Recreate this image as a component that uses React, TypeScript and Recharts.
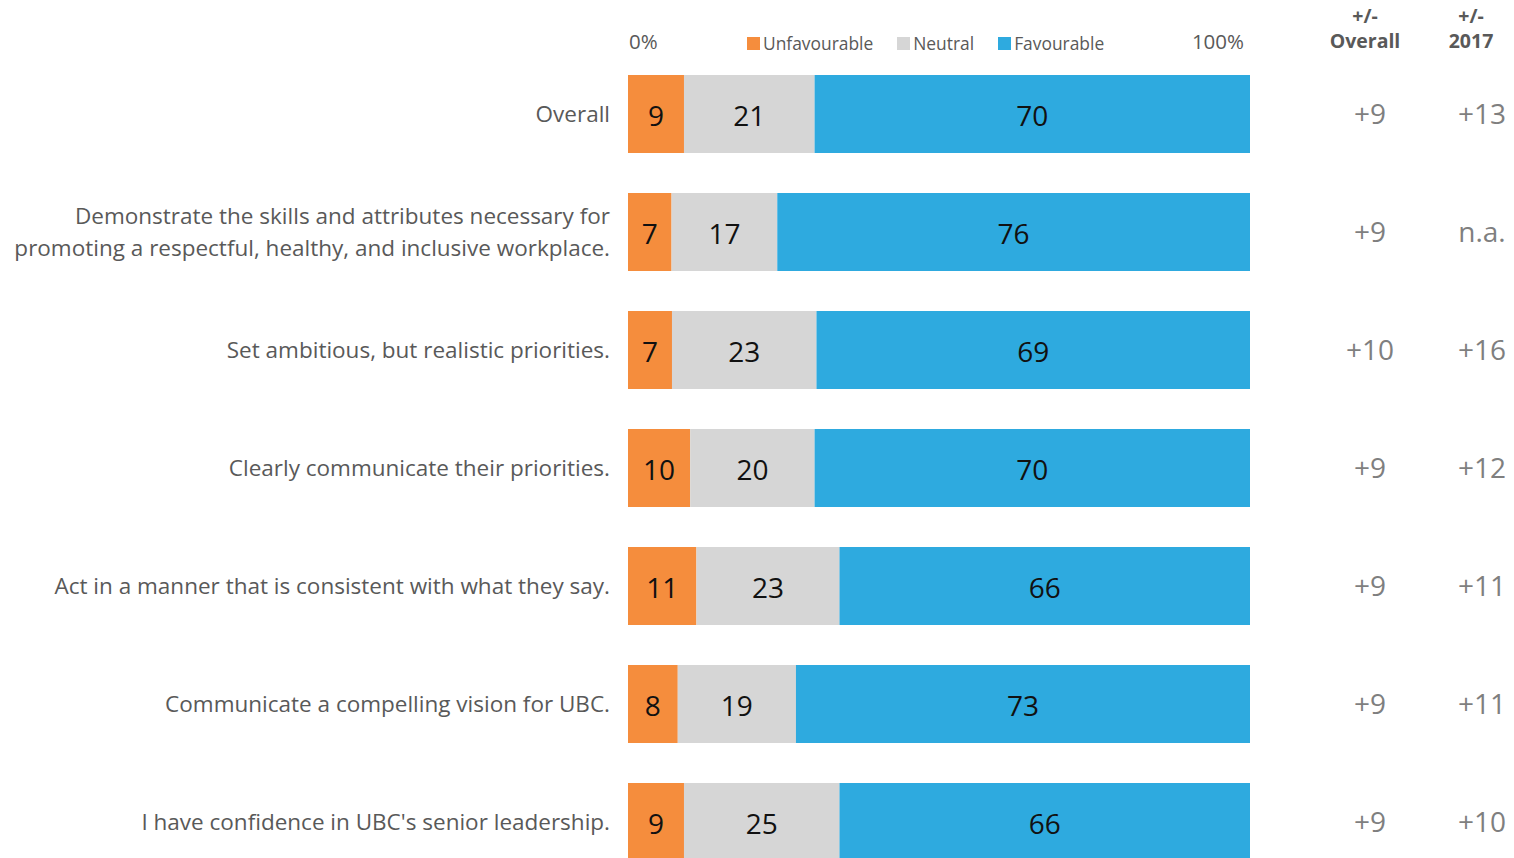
import { BarChart, Bar, XAxis, YAxis, Legend, LabelList } from 'recharts';

const categories = [
  'Overall',
  'Demonstrate the skills and attributes necessary for|promoting a respectful, healthy, and inclusive workplace.',
  'Set ambitious, but realistic priorities.',
  'Clearly communicate their priorities.',
  'Act in a manner that is consistent with what they say.',
  'Communicate a compelling vision for UBC.',
  "I have confidence in UBC's senior leadership.",
];
const unfavourable = [9, 7, 7, 10, 11, 8, 9];
const neutral = [21, 17, 23, 20, 23, 19, 25];
const favourable = [70, 76, 69, 70, 66, 73, 66];
const diffOverall = ['+9', '+9', '+10', '+9', '+9', '+9', '+9'];
const diff2017 = ['+13', 'n.a.', '+16', '+12', '+11', '+11', '+10'];
const axisTicks = [0, 1];

const FONT = '"Open Sans", "Noto Sans", sans-serif';
const COLORS = { unfav: '#F58D3D', neutral: '#D6D6D6', fav: '#2EAADF' };

const data = categories.map((label, i) => ({
  label,
  unfav: unfavourable[i],
  neutral: neutral[i],
  fav: favourable[i],
}));

const seriesValues: Record<string, number[]> = {
  unfav: unfavourable,
  neutral: neutral,
  fav: favourable,
};

function barLabel(key: string) {
  return (props: any) => {
    const { x, y, width, height, index } = props;
    const v = index != null ? seriesValues[key][index] : props.value;
    return (
      <text
        x={Number(x) + Number(width) / 2}
        y={Number(y) + Number(height) / 2 + 1}
        textAnchor="middle"
        dominantBaseline="central"
        fontFamily={FONT}
        fontSize={28}
        fill="#111"
      >
        {v}
      </text>
    );
  };
}

function LeftTick(props: any) {
  const { x, y, payload } = props;
  const lines = String(payload.value).split('|');
  const lh = 32;
  const start = -((lines.length - 1) * lh) / 2;
  return (
    <text x={x - 10} y={y - 1} textAnchor="end" fontFamily={FONT} fontSize={22.5} fill="#595959">
      {lines.map((l, i) => (
        <tspan key={i} x={x - 10} dy={i === 0 ? start : lh} dominantBaseline="central">
          {l}
        </tspan>
      ))}
    </text>
  );
}

function RightTick(props: any) {
  const { x, y, index } = props;
  return (
    <g fontFamily={FONT} fontSize={28} fill="#7F7F7F">
      <text x={x + 112} y={y - 1} textAnchor="middle" dominantBaseline="central">
        {diffOverall[index]}
      </text>
      <text x={x + 224} y={y - 1} textAnchor="middle" dominantBaseline="central">
        {diff2017[index]}
      </text>
    </g>
  );
}

function TopTick(props: any) {
  const { x, y, payload } = props;
  return (
    <text
      x={x + (payload.value === 0 ? 1 : -6)}
      y={y - 6}
      textAnchor={payload.value === 0 ? 'start' : 'end'}
      dominantBaseline="central"
      fontFamily={FONT}
      fontSize={20.5}
      fill="#595959"
    >
      {payload.value * 100}%
    </text>
  );
}

function LegendContent() {
  const items = [
    { name: 'Unfavourable', color: COLORS.unfav },
    { name: 'Neutral', color: COLORS.neutral },
    { name: 'Favourable', color: COLORS.fav },
  ];
  return (
    <div style={{ display: 'flex', gap: 24, fontFamily: FONT, fontSize: 17.4, color: '#595959', lineHeight: '20px' }}>
      {items.map((it) => (
        <span key={it.name} style={{ display: 'flex', alignItems: 'center' }}>
          <span style={{ width: 13, height: 13, background: it.color, marginRight: 3, display: 'inline-block' }} />
          {it.name}
        </span>
      ))}
    </div>
  );
}

export default function App() {
  return (
    <div style={{ position: 'fixed', left: 0, top: 0, width: 1514, height: 858, overflow: 'hidden', background: '#fff' }}>
      <div
        style={{
          position: 'absolute',
          top: 3,
          left: 1300,
          width: 214,
          display: 'flex',
          fontFamily: FONT,
          fontWeight: 700,
          fontSize: 19.5,
          color: '#595959',
          lineHeight: '25px',
          textAlign: 'center',
          zIndex: 2,
        }}
      >
        <div style={{ width: 130 }}>+/-<br />Overall</div>
        <div style={{ width: 82 }}>+/-<br />2017</div>
      </div>
      <BarChart
        width={1514}
        height={890}
        data={data}
        layout="vertical"
        stackOffset="expand"
        barSize={78}
        margin={{ top: 25, right: 0, bottom: 9, left: 0 }}
      >
        <XAxis
          type="number"
          orientation="top"
          domain={[0, 1]}
          ticks={axisTicks}
          height={30}
          axisLine={false}
          tickLine={false}
          tick={<TopTick />}
        />
        <YAxis
          yAxisId="left"
          type="category"
          dataKey="label"
          width={628}
          axisLine={false}
          tickLine={false}
          tick={<LeftTick />}
        />
        <YAxis
          yAxisId="right"
          orientation="right"
          type="category"
          dataKey="label"
          width={264}
          axisLine={false}
          tickLine={false}
          tick={<RightTick />}
        />
        <Legend
          layout="horizontal"
          verticalAlign="middle"
          content={<LegendContent />}
          wrapperStyle={{ position: 'absolute', top: 33, left: 747, width: 'auto' }}
        />
        <Bar yAxisId="left" dataKey="unfav" stackId="a" fill={COLORS.unfav} isAnimationActive={false}>
          <LabelList dataKey="unfav" content={barLabel('unfav')} />
        </Bar>
        <Bar yAxisId="left" dataKey="neutral" stackId="a" fill={COLORS.neutral} isAnimationActive={false}>
          <LabelList dataKey="neutral" content={barLabel('neutral')} />
        </Bar>
        <Bar yAxisId="left" dataKey="fav" stackId="a" fill={COLORS.fav} isAnimationActive={false}>
          <LabelList dataKey="fav" content={barLabel('fav')} />
        </Bar>
      </BarChart>
    </div>
  );
}
